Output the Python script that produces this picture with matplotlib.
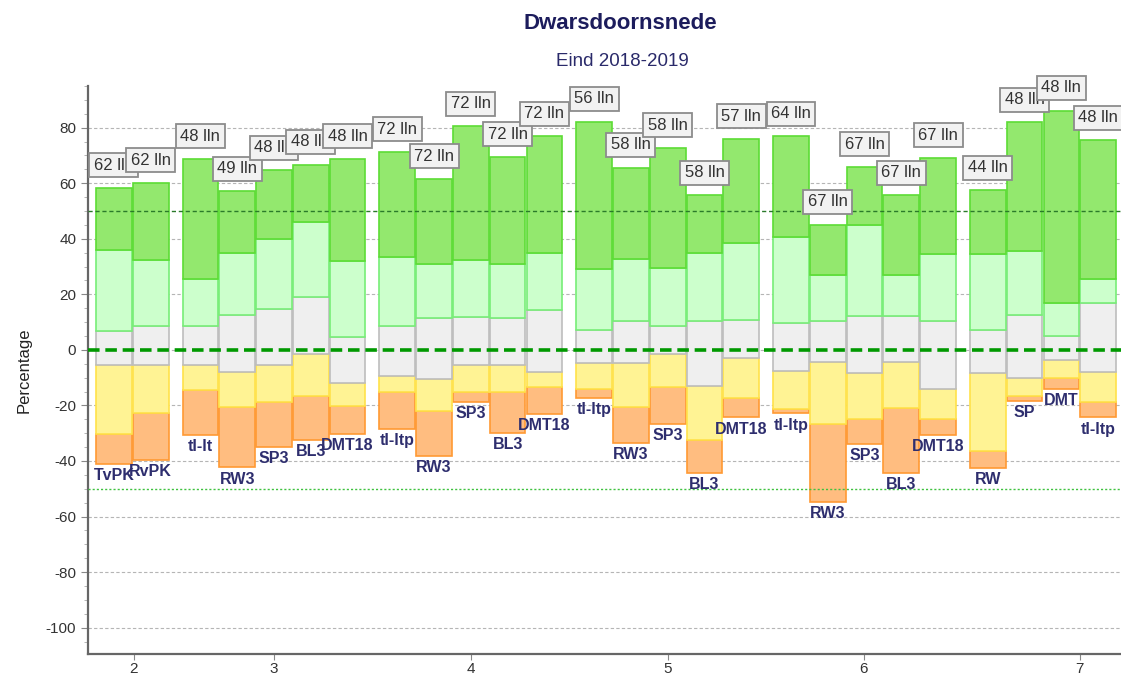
import matplotlib
matplotlib.use("Agg")
import matplotlib.pyplot as plt
from matplotlib.ticker import MultipleLocator

plt.rcParams['font.family'] = ['Liberation Sans', 'DejaVu Sans']
plt.rcParams['axes.unicode_minus'] = False

# bar names per group (first group only shows its last two slots)
groups = [
    ["TvPK", "RvPK"],
    ["tl-lt", "RW3", "SP3", "BL3", "DMT18"],
    ["tl-ltp", "RW3", "SP3", "BL3", "DMT18"],
    ["tl-ltp", "RW3", "SP3", "BL3", "DMT18"],
    ["tl-ltp", "RW3", "SP3", "BL3", "DMT18"],
    ["RW", "SP", "DMT", "tl-ltp"],
]
first_slot = [3, 0, 0, 0, 0, 0]

# number of lines per bar
lln = [62, 62,
       48, 49, 48, 48, 48,
       72, 72, 72, 72, 72,
       56, 58, 58, 58, 57,
       64, 67, 67, 67, 67,
       44, 48, 48, 48]

# segment boundaries (percentage)
orange_bottom = [-41.2, -39.6,
                 -30.7, -42.3, -34.8, -32.4, -30.4,
                 -28.5, -38.2, -18.7, -30.0, -23.1,
                 -17.2, -33.6, -26.8, -44.4, -24.3,
                 -22.9, -54.6, -33.9, -44.4, -30.7,
                 -42.6, -18.3, -14.2, -24.3]
orange_top = [-30.4, -22.6,
              -14.5, -20.5, -18.9, -16.6, -20.2,
              -15.1, -22.0, -15.1, -15.1, -13.5,
              -14.1, -20.5, -13.5, -32.4, -17.2,
              -21.3, -26.7, -25.0, -20.8, -25.0,
              -36.3, -16.5, -10.3, -18.7]
gray_bottom = [-5.5, -5.5,
               -5.5, -7.9, -5.5, -1.5, -12.1,
               -9.5, -10.6, -5.3, -5.3, -8.1,
               -4.9, -4.9, -1.5, -13.0, -3.1,
               -7.5, -4.3, -8.5, -4.3, -14.2,
               -8.5, -10.0, -3.7, -7.9]
gray_top = [6.8, 8.5,
            8.5, 12.7, 14.9, 19.1, 4.7,
            8.5, 11.6, 11.8, 11.6, 14.3,
            7.1, 10.4, 8.6, 10.4, 10.9,
            9.5, 10.4, 12.1, 12.1, 10.4,
            7.3, 12.5, 4.9, 16.9]
lightgreen_top = [36.1, 32.5,
                  25.4, 35.0, 39.8, 46.2, 31.9,
                  33.4, 30.8, 32.2, 30.8, 35.0,
                  29.0, 32.6, 29.6, 34.9, 38.6,
                  40.6, 27.1, 45.1, 27.1, 34.4,
                  34.4, 35.6, 16.9, 25.4]
green_top = [58.2, 60.0,
             68.8, 57.1, 64.6, 66.7, 68.8,
             71.2, 61.6, 80.5, 69.4, 76.9,
             82.2, 65.6, 72.6, 55.6, 76.0,
             76.9, 45.1, 65.8, 55.6, 69.0,
             57.4, 81.9, 86.1, 75.4]

xtick_labels = ["2", "3", "4", "5", "6", "7"]

# layout: bar slots in units of one bar width
GROUP_STEP = 5.35
GROUP_ORIGIN = -3.04
xtick_pos = [1.0, 4.81, 10.16, 15.52, 20.84, 26.71]

names, xs = [], []
for g, members in enumerate(groups):
    for k, name in enumerate(members):
        names.append(name)
        xs.append(GROUP_ORIGIN + g * GROUP_STEP + first_slot[g] + k + 0.5)

segments = [
    (orange_bottom, orange_top, "#ffbd80", "#ff9933"),
    (orange_top, gray_bottom, "#fff394", "#ffe24a"),
    (gray_bottom, gray_top, "#efefef", "#bdbdbd"),
    (gray_top, lightgreen_top, "#ccffcc", "#77ee77"),
    (lightgreen_top, green_top, "#93e86e", "#5cdc35"),
]

fig = plt.figure(figsize=(11.21, 6.79), dpi=100)
ax = fig.add_axes([0.0785, 0.0368, 0.9215, 0.8365])

for lo, hi, face, edge in segments:
    h = [b - a for a, b in zip(lo, hi)]
    ax.bar(xs, h, bottom=lo, width=0.97, color=face, edgecolor=edge,
           linewidth=1.2, zorder=2)

ax.set_xlim(-0.245, 27.83)
ax.set_ylim(-109.5, 95)

ax.yaxis.set_major_locator(MultipleLocator(20))
ax.yaxis.set_minor_locator(MultipleLocator(5))
ax.set_xticks(xtick_pos)
ax.set_xticklabels(xtick_labels)

ax.grid(axis="y", which="major", color="#b5b5b5", linestyle=(0, (3, 2)),
        linewidth=0.8, zorder=0)
ax.axhline(0, color="#009900", linewidth=2.6, dashes=(3.2, 1.6), zorder=4)
ax.axhline(50, color="#2a7a2a", linewidth=1.0, dashes=(3, 2), zorder=4)
ax.axhline(-50, color="#3fc23f", linewidth=1.0, dashes=(1.5, 1.5), zorder=4)

for x, top, n in zip(xs, green_top, lln):
    ax.annotate(f"{n} lln", (x, top), xytext=(0, 11), textcoords="offset points",
                ha="center", va="bottom", fontsize=12, color="#333333",
                annotation_clip=False, zorder=6,
                bbox=dict(boxstyle="square,pad=0.27", facecolor="#f2f2f2",
                          edgecolor="#8c8c8c", linewidth=1.3))

for x, bot, name in zip(xs, orange_bottom, names):
    ax.annotate(name, (x, bot), xytext=(0, -3), textcoords="offset points",
                ha="center", va="top", fontsize=11.5, fontweight="bold",
                color="#2e2e6e", annotation_clip=False, zorder=6)

for side in ["top", "right"]:
    ax.spines[side].set_visible(False)
for side in ["left", "bottom"]:
    ax.spines[side].set_color("#666666")
    ax.spines[side].set_linewidth(1.6)

ax.tick_params(axis="y", which="major", length=5, color="#888888",
               labelsize=11, labelcolor="#333333")
ax.tick_params(axis="y", which="minor", length=3, color="#aaaaaa")
ax.tick_params(axis="x", length=4, color="#888888", labelsize=11,
               labelcolor="#333333", pad=2)

ax.set_ylabel("Percentage", fontsize=12, color="#222222", labelpad=10)

fig.text(0.553, 0.966, "Dwarsdoornsnede", ha="center", va="center",
         fontsize=16, fontweight="bold", color="#1c1c5c")
fig.text(0.555, 0.909, "Eind 2018-2019", ha="center", va="center",
         fontsize=13.5, color="#2a2a6a")

fig.savefig("out.png", dpi=100)
